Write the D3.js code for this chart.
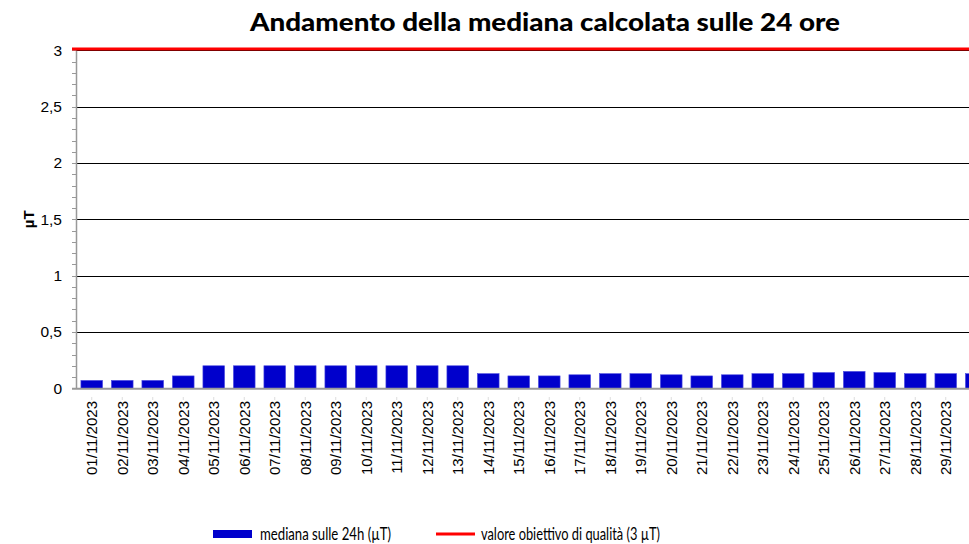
<!DOCTYPE html>
<html><head><meta charset="utf-8">
<script src="https://cdn.jsdelivr.net/npm/d3@7"></script>
<style>body{margin:0;background:#fff;overflow:hidden}svg{display:block}</style>
</head><body>
<script>
const dates = ["01/11/2023","02/11/2023","03/11/2023","04/11/2023","05/11/2023","06/11/2023","07/11/2023","08/11/2023","09/11/2023","10/11/2023","11/11/2023","12/11/2023","13/11/2023","14/11/2023","15/11/2023","16/11/2023","17/11/2023","18/11/2023","19/11/2023","20/11/2023","21/11/2023","22/11/2023","23/11/2023","24/11/2023","25/11/2023","26/11/2023","27/11/2023","28/11/2023","29/11/2023","30/11/2023"];
const mediana = [0.07,0.07,0.07,0.11,0.20,0.20,0.20,0.20,0.20,0.20,0.20,0.20,0.20,0.13,0.11,0.11,0.12,0.13,0.13,0.12,0.11,0.12,0.13,0.13,0.14,0.15,0.14,0.13,0.13,0.13];
const obiettivo = 3;
const yTicks = [0,0.5,1,1.5,2,2.5,3];
const yTickLabels = ["0","0,5","1","1,5","2","2,5","3"];
const title = "Andamento della mediana calcolata sulle 24 ore";
const yLabel = "µT";
const legendLabels = ["mediana sulle 24h (µT)","valore obiettivo di qualità (3 µT)"];

(function(){
const W = 969, H = 544;
const svg = d3.select("body").append("svg").attr("width", W).attr("height", H);
const pLeft = 76.5, pRight = 991.5, pTop = 50.4, pBottom = 388.3;
const x = d3.scaleBand().domain(dates).range([pLeft, pRight]).paddingInner(0.29).paddingOuter(0.145);
const y = d3.scaleLinear().domain([0, 3]).range([pBottom, pTop]);

svg.append("text").attr("x", 250).attr("y", 31)
  .attr("font-family", "Lato").attr("font-weight", 900).attr("font-size", 25)
  .attr("textLength", 590).attr("lengthAdjust", "spacingAndGlyphs").text(title);

svg.append("g").selectAll("line").data(yTicks.filter(d => d > 0)).join("line")
  .attr("x1", 72).attr("x2", W).attr("y1", d => Math.round(y(d)) + 0.5).attr("y2", d => Math.round(y(d)) + 0.5)
  .attr("stroke", "#000").attr("stroke-width", 1);

const minor = d3.range(0, 31).map(i => i / 10);
svg.append("g").selectAll("line").data(minor).join("line")
  .attr("x1", 72).attr("x2", 76).attr("y1", d => Math.round(y(d)) + 0.5).attr("y2", d => Math.round(y(d)) + 0.5)
  .attr("stroke", "#999").attr("stroke-width", 1);

svg.append("line").attr("x1", pLeft).attr("x2", pLeft).attr("y1", pTop).attr("y2", pBottom)
  .attr("stroke", "#999").attr("stroke-width", 1.5);

svg.append("g").selectAll("text").data(yTicks).join("text")
  .attr("x", 62).attr("y", d => y(d)).attr("dy", "0.35em").attr("text-anchor", "end")
  .attr("font-family", "Liberation Sans, Arial").attr("font-size", 15.5)
  .text((d, i) => yTickLabels[i]);

svg.append("text").attr("transform", `translate(34,${(pTop + pBottom) / 2}) rotate(-90)`)
  .attr("text-anchor", "middle").attr("font-family", "Liberation Sans, Arial").attr("font-weight", "bold")
  .attr("font-size", 15).text(yLabel);

svg.append("g").selectAll("rect").data(mediana).join("rect")
  .attr("x", (d, i) => x(dates[i])).attr("width", x.bandwidth())
  .attr("y", d => y(d)).attr("height", d => y(0) - y(d))
  .attr("fill", "#0000cc").attr("stroke", "#4d4de0").attr("stroke-width", 0.6);

svg.append("line").attr("x1", 72).attr("x2", W).attr("y1", pBottom + 0.5).attr("y2", pBottom + 0.5)
  .attr("stroke", "#999").attr("stroke-width", 2);

svg.append("g").selectAll("line").data(dates).join("line")
  .attr("x1", d => x(d) + x.bandwidth() / 2).attr("x2", d => x(d) + x.bandwidth() / 2)
  .attr("y1", 397).attr("y2", 400).attr("stroke", "#ddd");

const visibleDates = dates.filter(d => x(d) + x.bandwidth() / 2 < W);
svg.append("g").selectAll("text").data(visibleDates).join("text")
  .attr("transform", d => `translate(${x(d) + x.bandwidth() / 2 + 5.5},401) rotate(-90)`)
  .attr("text-anchor", "end").attr("font-family", "Liberation Sans, Arial").attr("font-size", 15)
  .text(d => d);

svg.append("line").attr("x1", 72).attr("x2", W).attr("y1", y(obiettivo) - 1.5).attr("y2", y(obiettivo) - 1.5)
  .attr("stroke", "#ff0000").attr("stroke-width", 3);

const lg = svg.append("g");
lg.append("rect").attr("x", 213).attr("y", 530).attr("width", 39).attr("height", 8).attr("fill", "#0000cc");
lg.append("text").attr("x", 260).attr("y", 540).attr("font-family", "Lato").attr("font-size", 17)
  .attr("textLength", 131).attr("lengthAdjust", "spacingAndGlyphs").text(legendLabels[0]);
lg.append("line").attr("x1", 436).attr("x2", 475).attr("y1", 534).attr("y2", 534).attr("stroke", "#ff0000").attr("stroke-width", 3);
lg.append("text").attr("x", 481).attr("y", 540).attr("font-family", "Lato").attr("font-size", 17)
  .attr("textLength", 179).attr("lengthAdjust", "spacingAndGlyphs").text(legendLabels[1]);
})();
</script>
</body></html>
